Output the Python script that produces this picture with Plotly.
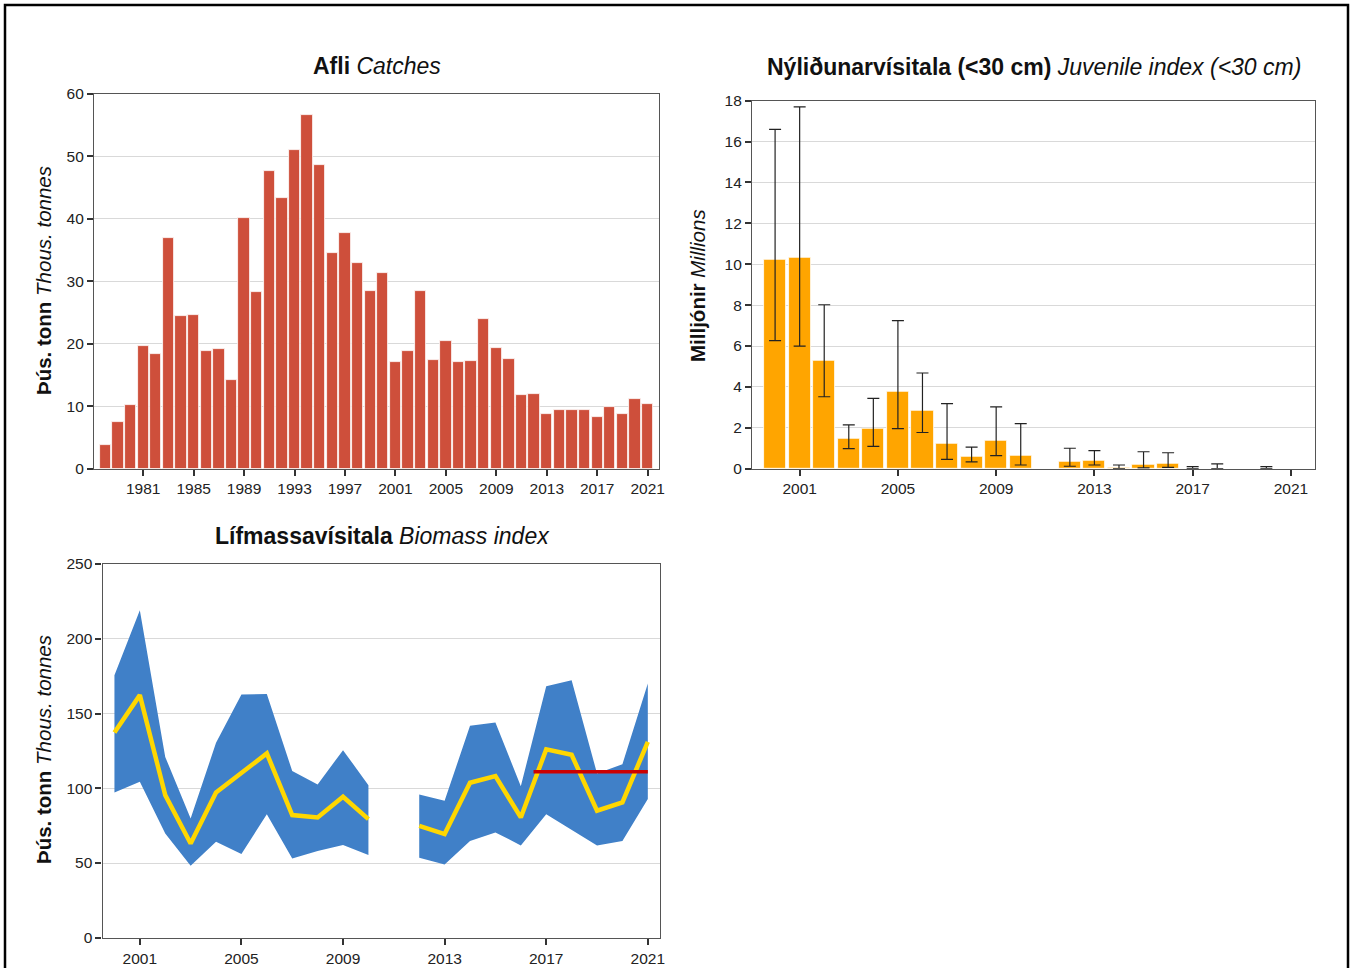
import plotly.graph_objects as go

# ---------------- data ----------------
catch_years = list(range(1978, 2022))
catches = [3.7, 7.5, 10.2, 19.6, 18.4, 37.0, 24.4, 24.6, 18.8, 19.2, 14.2,
           40.2, 28.3, 47.7, 43.3, 51.1, 56.6, 48.6, 34.6, 37.8, 33.0, 28.5,
           31.3, 17.1, 18.9, 28.4, 17.4, 20.5, 17.1, 17.2, 24.0, 19.3, 17.5,
           11.7, 11.9, 8.7, 9.4, 9.3, 9.4, 8.2, 9.8, 8.7, 11.2, 10.4]

juv_years = list(range(2000, 2022))
juv_index = [10.2, 10.3, 5.3, 1.45, 1.95, 3.75, 2.85, 1.2, 0.57, 1.39, 0.62, None,
             0.35, 0.4, 0.04, 0.22, 0.26, 0.02, 0.01, None, 0.01, None]
juv_upper = [16.6, 17.7, 8.02, 2.14, 3.44, 7.24, 4.68, 3.18, 1.06, 3.02, 2.2, None,
             1.0, 0.88, 0.18, 0.83, 0.78, 0.1, 0.24, None, 0.1, None]
juv_lower = [6.26, 6.0, 3.52, 0.98, 1.09, 1.96, 1.77, 0.46, 0.33, 0.64, 0.18, None,
             0.12, 0.18, 0.0, 0.04, 0.06, 0.0, 0.0, None, 0.0, None]

bio_years = list(range(2000, 2022))
bio_mean = [137.3, 162.3, 95.4, 63.1, 97.2, 109.9, 123.3, 82.1, 80.5, 94.3, 79.4, None,
            74.9, 69.4, 103.7, 108.1, 80.5, 126.0, 122.4, 85.0, 90.5, 131.1]
bio_upper = [175.6, 219.0, 121.0, 79.8, 130.4, 162.7, 163.1, 111.5, 102.6, 125.5, 102.1, None,
             95.9, 91.6, 141.8, 144.0, 101.4, 168.3, 172.3, 109.9, 116.1, 170.0]
bio_lower = [97.2, 104.3, 69.8, 48.2, 64.3, 56.0, 82.7, 53.1, 58.0, 62.0, 55.4, None,
             53.6, 49.1, 64.7, 70.5, 61.8, 82.7, 72.5, 61.8, 64.7, 92.8]
ref_years = [2016.5, 2021]
ref_level = [111, 111]

# ---------------- figure ----------------
W, H = 1350, 968
FONT = "Liberation Sans, Arial, sans-serif"
fig = go.Figure()

def px_x(p):
    return p / W

def px_y(p):
    return 1 - p / H

# Catches
fig.add_trace(go.Bar(x=catch_years, y=catches, width=0.9,
                     marker=dict(color="#ce4f3b", line=dict(color="white", width=0.8)),
                     xaxis="x", yaxis="y", showlegend=False))

# Juvenile index
jx, jy, jp, jm = [], [], [], []
for yr, v, u, l in zip(juv_years, juv_index, juv_upper, juv_lower):
    if v is None:
        continue
    jx.append(yr); jy.append(v); jp.append(u - v); jm.append(v - l)
fig.add_trace(go.Bar(x=jx, y=jy, width=0.9,
                     marker=dict(color="#ffa500", line=dict(color="white", width=0.8)),
                     error_y=dict(type="data", array=jp, arrayminus=jm, symmetric=False,
                                  color="#222222", thickness=1.2, width=6),
                     xaxis="x2", yaxis="y2", showlegend=False))

# Biomass band: one polygon per contiguous segment
segments, cur = [], []
for yr, u, l in zip(bio_years, bio_upper, bio_lower):
    if u is None:
        if cur:
            segments.append(cur); cur = []
    else:
        cur.append((yr, u, l))
if cur:
    segments.append(cur)
for seg in segments:
    xs = [s[0] for s in seg] + [s[0] for s in reversed(seg)]
    ys = [s[1] for s in seg] + [s[2] for s in reversed(seg)]
    fig.add_trace(go.Scatter(x=xs, y=ys, fill="toself", fillcolor="#4080c8",
                             line=dict(width=0, color="#4080c8"), mode="lines",
                             xaxis="x3", yaxis="y3", showlegend=False, hoverinfo="skip"))
fig.add_trace(go.Scatter(x=bio_years, y=bio_mean, mode="lines",
                         line=dict(color="#ffd700", width=4.5), connectgaps=False,
                         xaxis="x3", yaxis="y3", showlegend=False))
fig.add_trace(go.Scatter(x=ref_years, y=ref_level, mode="lines",
                         line=dict(color="#cc0000", width=3.5),
                         xaxis="x3", yaxis="y3", showlegend=False))

axis_common = dict(showline=True, mirror=True, linecolor="#555555", linewidth=1.2,
                   ticks="outside", ticklen=6, tickwidth=1.5, tickcolor="#333333",
                   tickfont=dict(family=FONT, size=15.5, color="#222222"),
                   automargin=False, zeroline=False, fixedrange=True)

fig.update_layout(
    width=W, height=H,
    margin=dict(l=0, r=0, t=0, b=0),
    paper_bgcolor="white", plot_bgcolor="white",
    font=dict(family=FONT),
    xaxis=dict(domain=[px_x(94), px_x(659)], range=[1977.1, 2021.9],
               tickvals=list(range(1981, 2022, 4)), showgrid=False, anchor="y", **axis_common),
    yaxis=dict(domain=[px_y(468.5), px_y(94)], range=[0, 60], dtick=10,
               showgrid=True, gridcolor="#d9d9d9", anchor="x", **axis_common),
    xaxis2=dict(domain=[px_x(752), px_x(1315)], range=[1999.06, 2021.98],
                tickvals=list(range(2001, 2022, 4)), showgrid=False, anchor="y2", **axis_common),
    yaxis2=dict(domain=[px_y(468.7), px_y(100.7)], range=[0, 18], dtick=2,
                showgrid=True, gridcolor="#d9d9d9", anchor="x2", **axis_common),
    xaxis3=dict(domain=[px_x(102.5), px_x(659.5)], range=[1999.53, 2021.46],
                tickvals=list(range(2001, 2022, 4)), showgrid=False, anchor="y3", **axis_common),
    yaxis3=dict(domain=[px_y(937.8), px_y(564)], range=[0, 250], dtick=50,
                showgrid=True, gridcolor="#d9d9d9", anchor="x3", **axis_common),
    bargap=0,
)

title_font = dict(family=FONT, size=23, color="#111111")
ytitle_font = dict(family=FONT, size=20.5, color="#111111")
annots = [
    dict(text="<b>Afli</b> <i>Catches</i>", x=px_x(377), y=px_y(66), font=title_font),
    dict(text="<b>Nýliðunarvísitala (&lt;30 cm)</b> <i>Juvenile index (&lt;30 cm)</i>",
         x=px_x(1034), y=px_y(67), font=title_font),
    dict(text="<b>Lífmassavísitala</b> <i>Biomass index</i>", x=px_x(382), y=px_y(536), font=title_font),
    dict(text="<b>Þús. tonn</b> <i>Thous. tonnes</i>", x=px_x(43), y=px_y(281),
         font=ytitle_font, textangle=-90),
    dict(text="<b>Milljónir</b> <i>Millions</i>", x=px_x(697), y=px_y(285),
         font=ytitle_font, textangle=-90),
    dict(text="<b>Þús. tonn</b> <i>Thous. tonnes</i>", x=px_x(43), y=px_y(750),
         font=ytitle_font, textangle=-90),
]
for a in annots:
    fig.add_annotation(xref="paper", yref="paper", showarrow=False,
                       xanchor="center", yanchor="middle", **a)

# outer frame
fig.add_shape(type="rect", xref="paper", yref="paper",
              x0=px_x(5), x1=px_x(1348), y0=-0.05, y1=px_y(5),
              line=dict(color="black", width=2.5), fillcolor="rgba(0,0,0,0)")

fig.write_html("out.html", config={"displayModeBar": False},
               post_script="document.body.style.margin='0';document.body.style.padding='0';")
